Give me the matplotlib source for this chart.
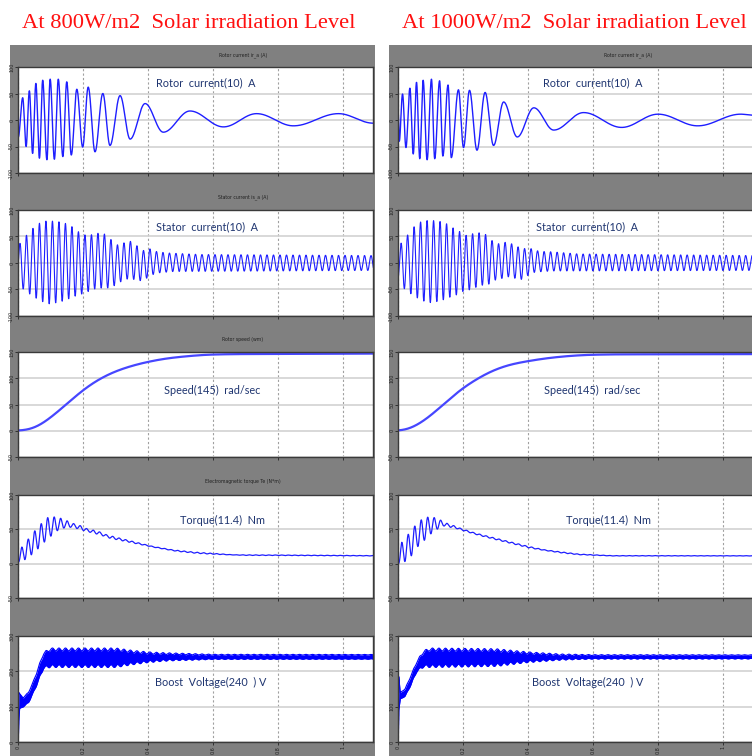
import numpy as np
import matplotlib
matplotlib.use('Agg')
import matplotlib.pyplot as plt
from matplotlib.patches import Rectangle

W, H = 752, 756
fig = plt.figure(figsize=(W / 100, H / 100), dpi=100)
fig.patch.set_facecolor('white')

# ---------------- data ----------------
titles = ["At 800W/m2  Solar irradiation Level", "At 1000W/m2  Solar irradiation Level"]
bar_titles_left = ["Rotor current ir_a (A)", "Stator current is_a (A)", "Rotor speed (wm)",
                   "Electromagnetic torque Te (N*m)", ""]
bar_titles_right = ["Rotor current ir_a (A)", "", "", "", ""]
labels = ["Rotor  current(10)  A", "Stator  current(10)  A", "Speed(145)  rad/sec",
          "Torque(11.4)  Nm", "Boost  Voltage(240  ) V"]
x_ticks = [0, 0.2, 0.4, 0.6, 0.8, 1.0]
x_tick_labels = ["0", "0.2", "0.4", "0.6", "0.8", "1"]
x_max = 1.092
grid_freq = 50.0  # Hz, ripple period (0.02 s)

ylims = [(-100, 100), (-100, 100), (-50, 150), (-50, 100), (0, 300)]
yticks = [[-100, -50, 0, 50, 100], [-100, -50, 0, 50, 100], [-50, 0, 50, 100, 150],
          [-50, 0, 50, 100], [0, 100, 200, 300]]

# Rotor current: successive extrema (time s, value)
rotor_t_L = [0.0, 0.0135, 0.024, 0.034, 0.044, 0.054, 0.065, 0.075, 0.088, 0.098, 0.111, 0.123,
             0.137, 0.149, 0.163, 0.180, 0.198, 0.215, 0.236, 0.260, 0.282, 0.313, 0.344, 0.390,
             0.446, 0.528, 0.631, 0.733, 0.846, 0.985, 1.092]
rotor_v_L = [-32, 42, -50, 55, -63, 69, -72, 75, -75, 77, -74, 77, -69, 72, -66, 58, -51, 62, -60,
             50, -48, 46, -36, 31, -23, 17, -13, 12, -11, 12, -6]
rotor_t_R = [0.0, 0.003, 0.013, 0.0235, 0.0357, 0.046, 0.056, 0.066, 0.0764, 0.0886, 0.102, 0.112,
             0.127, 0.137, 0.153, 0.163, 0.185, 0.2006, 0.219, 0.242, 0.267, 0.293, 0.324, 0.366,
             0.417, 0.478, 0.570, 0.687, 0.799, 0.921, 1.053, 1.092]
rotor_v_R = [10, -40, 49, -52, 60, -64, 71, -73, 75, -75, 77, -73, 74, -68, 66, -71, 57, -52, 56,
             -57, 52, -48, 34, -32, 23, -19, 14, -14, 11, -11, 11, 9]

# Stator current: upper / lower envelopes of the 50 Hz trace
stat_up_t_L = [0.0, 0.005, 0.026, 0.046, 0.065, 0.085, 0.106, 0.123, 0.144, 0.164, 0.185, 0.205,
               0.223, 0.241, 0.262, 0.282, 0.303, 0.321, 0.342, 0.362, 0.383, 0.400, 0.421, 0.456,
               0.559, 1.092]
stat_up_v_L = [30, 37, 53, 66, 75, 79, 79, 78, 75, 69, 59, 53, 53, 56, 56, 46, 34, 37, 42, 34, 23,
               28, 22, 19, 16, 14]
stat_lo_t_L = [0.0, 0.013, 0.034, 0.054, 0.075, 0.095, 0.116, 0.136, 0.157, 0.177, 0.198, 0.218,
               0.239, 0.260, 0.280, 0.301, 0.321, 0.342, 0.362, 0.383, 0.403, 0.424, 0.477, 1.092]
stat_lo_v_L = [-30, -48, -58, -66, -73, -77, -75, -72, -67, -62, -58, -53, -48, -47, -47, -41, -33,
               -29, -32, -34, -25, -19, -16, -14]
stat_up_t_R = [0.0, 0.0104, 0.0276, 0.046, 0.066, 0.087, 0.107, 0.125, 0.146, 0.166, 0.187, 0.207,
               0.227, 0.248, 0.268, 0.289, 0.310, 0.329, 0.350, 0.370, 0.390, 0.410, 0.433, 0.474,
               0.555, 1.092]
stat_up_v_R = [30, 39, 52, 67, 77, 80, 80, 79, 75, 67, 60, 52, 55, 57, 54, 42, 36, 39, 36, 30, 27,
               27, 22, 21, 17, 14]
stat_lo_t_R = [0.0, 0.0176, 0.036, 0.056, 0.074, 0.095, 0.116, 0.136, 0.156, 0.176, 0.197, 0.217,
               0.238, 0.258, 0.278, 0.299, 0.319, 0.339, 0.360, 0.380, 0.400, 0.421, 0.474, 1.092]
stat_lo_v_R = [-30, -48, -57, -65, -71, -75, -73, -70, -65, -61, -54, -51, -46, -42, -40, -32, -29,
               -26, -29, -31, -23, -17, -15, -14]

# Rotor speed (time s, rad/s)
speed_t_L = [0.0, 0.036, 0.067, 0.108, 0.149, 0.195, 0.241, 0.292, 0.344, 0.395, 0.456, 0.518,
             0.579, 0.661, 1.092]
speed_v_L = [0, 1.3, 9.7, 29, 51, 76, 96, 112, 123, 131, 138, 142, 145, 146, 147]
speed_t_R = [0.0, 0.0205, 0.046, 0.087, 0.137, 0.188, 0.239, 0.290, 0.341, 0.392, 0.453, 0.514,
             0.575, 0.656, 1.092]
speed_v_R = [0, 0, 6, 22, 49, 77, 98, 115, 126, 132, 138, 142, 144.5, 145.5, 146]

# Torque: upper / lower envelopes of the 50 Hz ripple
torq_up_t_L = [0.0, 0.0104, 0.031, 0.051, 0.070, 0.090, 0.111, 0.131, 0.152, 0.172, 0.193, 0.215,
               0.241, 0.272, 0.313, 0.364, 0.415, 0.477, 0.539, 0.600, 0.662, 1.092]
torq_up_v_L = [10, 24, 36, 48, 58, 67, 68, 66, 62, 58, 55, 50, 48, 42, 37, 31, 25, 20, 17, 15, 13, 11.8]
torq_lo_t_L = [0.0, 0.0176, 0.038, 0.059, 0.079, 0.100, 0.120, 0.141, 0.161, 0.182, 0.202, 0.226,
               0.251, 0.282, 0.323, 0.374, 0.426, 0.487, 0.549, 0.610, 0.700, 1.092]
torq_lo_v_L = [2, 5, 12, 21, 31, 40, 48, 52, 53, 51, 48, 45, 42, 37, 33, 28, 23, 18, 15, 13.5, 12, 11.2]
torq_up_t_R = [0.0, 0.0104, 0.031, 0.051, 0.071, 0.092, 0.112, 0.132, 0.153, 0.173, 0.194, 0.214,
               0.234, 0.250, 0.300, 0.351, 0.402, 0.453, 0.504, 0.555, 0.657, 1.092]
torq_up_v_R = [8, 31, 43, 55, 64, 68, 67, 63, 58, 55, 51, 48, 45, 43, 37, 31, 25, 20, 17, 14, 11.8, 11.6]
torq_lo_t_R = [0.0, 0.0174, 0.038, 0.058, 0.078, 0.099, 0.119, 0.139, 0.160, 0.180, 0.200, 0.221,
               0.250, 0.300, 0.351, 0.402, 0.453, 0.504, 0.555, 0.657, 1.092]
torq_lo_v_R = [0, 2, 10, 24, 33, 43, 50, 55, 53, 51, 48, 45, 41, 35, 29, 23, 19, 15.5, 13, 11.2, 11.2]

# Boost voltage band (upper / lower edge, V)
boost_t_L = [0.0, 0.0015, 0.004, 0.015, 0.031, 0.046, 0.062, 0.077, 0.098, 0.300, 0.350, 0.400,
             0.460, 0.600, 1.092]
boost_up_L = [0, 140, 137, 125, 140, 170, 210, 250, 262, 262, 256, 252, 250, 247, 247]
boost_lo_L = [0, 60, 95, 100, 112, 140, 175, 210, 215, 215, 222, 228, 232, 235, 235]
boost_t_R = [0.0, 0.0015, 0.006, 0.021, 0.040, 0.056, 0.077, 0.097, 0.300, 0.400, 0.500, 0.600,
             1.092]
boost_up_R = [0, 185, 140, 150, 190, 225, 255, 262, 260, 252, 247, 246, 246]
boost_lo_R = [0, 90, 122, 130, 165, 200, 215, 215, 218, 228, 234, 236, 236]
boost_wig_t = [0.0, 0.08, 0.30, 0.45, 0.60, 1.092]
boost_wig_v = [0, 4, 4, 2.5, 1.2, 0.8]

# ---------------- layout (pixels) ----------------
rows = [(67, 173), (210, 316), (352, 457), (495, 598), (636, 742)]
bar_title_y = [55, 197, 340, 482, None]
cols = [(18.3, 373.3), (398.3, 753.3)]
panels = [(10, 375), (389, 752)]
label_pos = [[(206, 83), (207, 227), (212, 390), (222, 520), (211, 682)],
             [(593, 83), (587, 227), (592, 390), (609, 520), (588, 682)]]
bar_title_x = [243, 628]

GRAY = '#808080'
LINE = '#1e1eff'
TXT = '#1f3570'

for (p0, p1) in panels:
    fig.add_artist(Rectangle((p0 / W, 0), (p1 - p0) / W, (H - 45) / H,
                             transform=fig.transFigure, facecolor=GRAY, edgecolor='none', zorder=-2))

for x, s in zip([22, 402], titles):
    fig.text(x / W, 1 - 23 / H, s, color='#ff1010', family='Liberation Serif', fontsize=16.2,
             ha='left', va='center')

t = np.linspace(0, x_max, 8000)


def cos_interp(tk, vk, tt):
    tk = np.asarray(tk, float)
    vk = np.asarray(vk, float)
    idx = np.clip(np.searchsorted(tk, tt) - 1, 0, len(tk) - 2)
    t0, t1 = tk[idx], tk[idx + 1]
    v0, v1 = vk[idx], vk[idx + 1]
    s = np.clip((tt - t0) / (t1 - t0), 0, 1)
    return v0 + (v1 - v0) * (1 - np.cos(np.pi * s)) / 2


def smooth_curve(tk, vk, tt, width=0.025):
    y = np.interp(tt, tk, vk)
    dt = tt[1] - tt[0]
    n = int(width / dt)
    k = np.exp(-0.5 * (np.arange(-3 * n, 3 * n + 1) / n) ** 2)
    k /= k.sum()
    pad = np.concatenate([np.full(3 * n, y[0]), y, np.full(3 * n, y[-1])])
    return np.convolve(pad, k, mode='valid')


def enveloped(tt, tu, vu, tl, vl, t_peak):
    up = np.interp(tt, tu, vu)
    lo = np.interp(tt, tl, vl)
    return (up + lo) / 2 + (up - lo) / 2 * np.cos(2 * np.pi * grid_freq * (tt - t_peak))


series = {
    0: dict(rotor=(rotor_t_L, rotor_v_L), stat=(stat_up_t_L, stat_up_v_L, stat_lo_t_L, stat_lo_v_L, 0.005),
            speed=(speed_t_L, speed_v_L),
            torq=(torq_up_t_L, torq_up_v_L, torq_lo_t_L, torq_lo_v_L, 0.0104),
            boost=(boost_t_L, boost_up_L, boost_lo_L)),
    1: dict(rotor=(rotor_t_R, rotor_v_R), stat=(stat_up_t_R, stat_up_v_R, stat_lo_t_R, stat_lo_v_R, 0.0085),
            speed=(speed_t_R, speed_v_R),
            torq=(torq_up_t_R, torq_up_v_R, torq_lo_t_R, torq_lo_v_R, 0.0104),
            boost=(boost_t_R, boost_up_R, boost_lo_R)),
}

for ci, (x0, x1) in enumerate(cols):
    d = series[ci]
    for ri, (y0, y1) in enumerate(rows):
        ax = fig.add_axes([x0 / W, 1 - y1 / H, (x1 - x0) / W, (y1 - y0) / H])
        ax.set_facecolor('white')
        ax.set_xlim(0, x_max)
        ax.set_ylim(*ylims[ri])
        ax.set_yticks(yticks[ri])
        ax.set_yticklabels([str(v) for v in yticks[ri]], rotation=90, va='center', fontsize=3.5,
                           color='#111111')
        ax.set_xticks(x_ticks)
        if ri == len(rows) - 1:
            ax.set_xticklabels(x_tick_labels, rotation=90, fontsize=3.5, color='#111111')
        else:
            ax.set_xticklabels([])
        ax.tick_params(axis='both', direction='out', length=2, width=0.6, pad=1, colors='#222222')
        ax.grid(axis='x', color='#a0a0a0', lw=0.8, ls=(0, (2, 2)))
        ax.grid(axis='y', color='#d2d2d2', lw=1.2, ls='-')
        ax.set_axisbelow(True)
        for sp in ax.spines.values():
            sp.set_color('#3a3a3a')
            sp.set_linewidth(1.0)

        if ri == 0:
            ax.plot(t, cos_interp(*d['rotor'], t), color=LINE, lw=1.0)
        elif ri == 1:
            tu, vu, tl, vl, tp = d['stat']
            ax.plot(t, enveloped(t, tu, vu, tl, vl, tp), color=LINE, lw=0.8)
        elif ri == 2:
            ax.plot(t, smooth_curve(*d['speed'], t), color='#4646ff', lw=1.6)
        elif ri == 3:
            tu, vu, tl, vl, tp = d['torq']
            ax.plot(t, enveloped(t, tu, vu, tl, vl, tp), color=LINE, lw=0.9)
        else:
            bt, bu, bl = d['boost']
            wig = np.interp(t, boost_wig_t, boost_wig_v) * np.sin(2 * np.pi * grid_freq * t)
            up = np.interp(t, bt, bu) + wig
            lo = np.interp(t, bt, bl) + wig
            ax.fill_between(t, lo, up, color='#0000ff', lw=0)
            ax.plot(t, up, color='#0000ff', lw=0.8)
            ax.plot(t, lo, color='#0000ff', lw=0.8)

        lx, ly = label_pos[ci][ri]
        fig.text(lx / W, 1 - ly / H, labels[ri], color=TXT, family='Lato', fontsize=7.8,
                 ha='center', va='center')
        bt_txt = (bar_titles_left if ci == 0 else bar_titles_right)[ri]
        if bt_txt and bar_title_y[ri] is not None:
            fig.text(bar_title_x[ci] / W, 1 - bar_title_y[ri] / H, bt_txt, color='#202020',
                     family='DejaVu Sans', fontsize=3.3, ha='center', va='center')

fig.savefig('out.png', dpi=100, facecolor='white')
